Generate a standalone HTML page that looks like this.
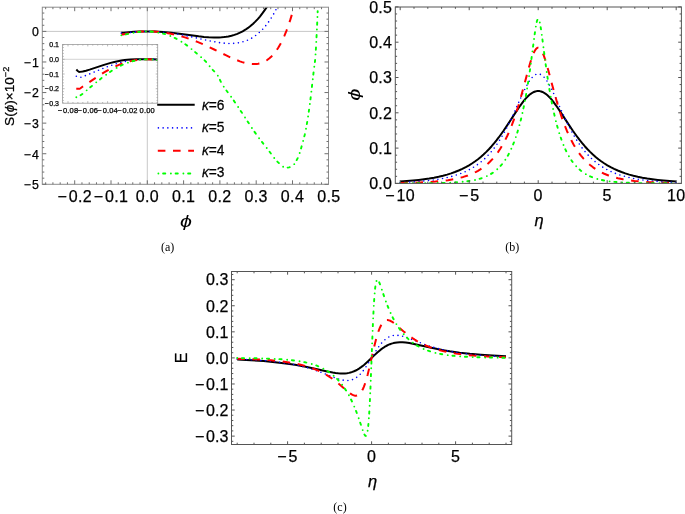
<!DOCTYPE html>
<html><head><meta charset="utf-8"><title>figure</title>
<style>html,body{margin:0;padding:0;background:#fff;}svg{display:block;}</style></head>
<body>
<svg width="685" height="514" viewBox="0 0 685 514">
<style>text{stroke:#000;stroke-width:0.25px;}</style>
<rect width="685" height="514" fill="#fff"/>
<defs><clipPath id="ca"><rect x="42.3" y="7.2" width="286.2" height="177.10000000000002"/></clipPath>
<clipPath id="ci"><rect x="62.6" y="44.4" width="95.1" height="58.800000000000004"/></clipPath>
<clipPath id="cb"><rect x="395.3" y="7.0" width="286.09999999999997" height="176.4"/></clipPath>
<clipPath id="cc"><rect x="231.5" y="271.5" width="280.2" height="173.0"/></clipPath></defs>
<line x1="42.3" y1="31.4" x2="328.5" y2="31.4" stroke="#c8c8c8" stroke-width="1"/>
<line x1="147.3" y1="7.2" x2="147.3" y2="184.3" stroke="#c8c8c8" stroke-width="1"/>
<polyline points="121.31,32.46 122.19,32.68 123.51,32.68 134.08,31.76 139.81,31.46 148.39,31.40 154.95,31.54 162.97,31.99 171.23,32.75 179.49,33.74 198.69,36.34 204.03,36.93 208.65,37.31 213.99,37.54 219.10,37.48 221.53,37.34 223.96,37.11 226.14,36.81 228.33,36.43 231.49,35.72 234.40,34.87 237.32,33.82 239.99,32.67 242.66,31.31 245.34,29.73 248.01,27.92 250.44,26.06 252.87,23.97 255.30,21.65 257.73,19.07 259.92,16.53 262.34,13.44 264.53,10.41 266.72,7.13 268.91,3.59" fill="none" stroke="#000000" stroke-width="2.0" stroke-linejoin="round" stroke-linecap="butt" clip-path="url(#ca)"/>
<polyline points="121.31,33.17 123.07,33.26 134.97,31.95 138.93,31.64 142.89,31.46 147.30,31.40 152.10,31.47 156.54,31.65 161.24,31.98 165.94,32.43 170.64,33.00 175.35,33.70 180.31,34.54 189.71,36.43 210.08,40.95 215.30,41.96 219.74,42.66 224.97,43.25 227.58,43.41 229.93,43.47 232.28,43.44 234.63,43.31 236.72,43.09 238.81,42.78 241.68,42.18 244.55,41.35 247.42,40.27 250.04,39.05 252.65,37.58 255.26,35.85 257.87,33.82 260.22,31.73 262.57,29.36 264.92,26.71 267.27,23.74 269.36,20.82 271.71,17.21 273.80,13.69 275.89,9.86 277.98,5.71" fill="none" stroke="#0000ff" stroke-width="1.6" stroke-linejoin="round" stroke-linecap="round" stroke-dasharray="0 4.73" clip-path="url(#ca)"/>
<polyline points="121.31,34.43 122.63,34.45 131.00,32.86 136.73,32.01 141.57,31.57 146.86,31.40 150.27,31.44 153.45,31.56 156.63,31.77 160.10,32.09 163.28,32.48 166.46,32.95 169.64,33.51 173.12,34.21 178.90,35.61 184.97,37.37 191.05,39.42 197.41,41.87 202.91,44.20 208.69,46.84 214.19,49.48 225.76,55.18 230.96,57.65 235.59,59.67 239.93,61.34 242.24,62.12 244.56,62.79 246.87,63.34 248.90,63.72 250.92,63.97 252.94,64.10 254.97,64.09 256.70,63.95 258.15,63.73 259.60,63.42 261.04,63.02 262.20,62.61 263.65,62.00 264.80,61.43 267.12,60.03 269.43,58.28 271.75,56.14 274.06,53.57 276.37,50.52 278.40,47.44 280.42,43.94 282.45,39.99 284.47,35.55 286.50,30.60 288.23,25.91 290.26,19.89 291.99,14.23" fill="none" stroke="#ff0000" stroke-width="2.0" stroke-linejoin="round" stroke-linecap="butt" stroke-dasharray="7.6 7.6" clip-path="url(#ca)"/>
<polyline points="121.31,35.34 123.51,35.01 130.12,33.45 134.08,32.64 138.05,32.00 141.57,31.63 145.54,31.42 149.37,31.45 152.77,31.74 156.86,32.36 161.97,33.37 165.72,34.25 168.79,35.30 172.20,36.76 176.63,38.89 180.03,40.82 182.42,42.34 185.14,44.19 187.19,45.64 189.23,47.21 200.48,56.59 202.52,58.38 204.23,59.99 205.59,61.38 206.61,62.53 210.70,67.56 212.40,69.55 215.47,72.62 216.49,73.77 217.17,74.65 217.86,75.71 218.88,77.67 221.26,82.64 222.29,84.39 223.65,86.53 226.03,89.97 231.14,96.85 233.19,99.71 237.96,106.80 253.63,130.55 256.70,134.96 259.77,139.12 268.97,150.94 274.08,157.89 275.44,159.58 276.80,161.09 281.23,165.29 282.26,166.15 283.28,166.87 284.30,167.41 285.32,167.71 286.00,167.76 287.37,167.66 289.07,167.36 291.11,166.77 292.14,166.36 292.82,165.87 293.84,164.76 294.86,163.32 296.23,160.99 297.93,157.71 298.61,156.07 299.63,153.11 300.66,149.75 302.70,142.60 303.72,138.82 304.74,134.67 306.11,128.28 307.13,122.42 308.15,115.95 309.86,104.03 310.88,95.89 313.60,72.01 314.97,61.54 315.31,57.88 315.99,47.39 317.01,27.45 317.69,11.16" fill="none" stroke="#00ff00" stroke-width="1.9" stroke-linejoin="round" stroke-linecap="round" stroke-dasharray="0 4.7 2.2 5.6" clip-path="url(#ca)"/>
<rect x="42.3" y="7.2" width="286.2" height="177.10000000000002" fill="none" stroke="#8c8c8c" stroke-width="1.0"/>
<path d="M74.70,184.3v-4M74.70,7.2v4M111.00,184.3v-4M111.00,7.2v4M147.30,184.3v-4M147.30,7.2v4M183.60,184.3v-4M183.60,7.2v4M219.90,184.3v-4M219.90,7.2v4M256.20,184.3v-4M256.20,7.2v4M292.50,184.3v-4M292.50,7.2v4M45.66,184.3v-2M45.66,7.2v2M52.92,184.3v-2M52.92,7.2v2M60.18,184.3v-2M60.18,7.2v2M67.44,184.3v-2M67.44,7.2v2M81.96,184.3v-2M81.96,7.2v2M89.22,184.3v-2M89.22,7.2v2M96.48,184.3v-2M96.48,7.2v2M103.74,184.3v-2M103.74,7.2v2M118.26,184.3v-2M118.26,7.2v2M125.52,184.3v-2M125.52,7.2v2M132.78,184.3v-2M132.78,7.2v2M140.04,184.3v-2M140.04,7.2v2M154.56,184.3v-2M154.56,7.2v2M161.82,184.3v-2M161.82,7.2v2M169.08,184.3v-2M169.08,7.2v2M176.34,184.3v-2M176.34,7.2v2M190.86,184.3v-2M190.86,7.2v2M198.12,184.3v-2M198.12,7.2v2M205.38,184.3v-2M205.38,7.2v2M212.64,184.3v-2M212.64,7.2v2M227.16,184.3v-2M227.16,7.2v2M234.42,184.3v-2M234.42,7.2v2M241.68,184.3v-2M241.68,7.2v2M248.94,184.3v-2M248.94,7.2v2M263.46,184.3v-2M263.46,7.2v2M270.72,184.3v-2M270.72,7.2v2M277.98,184.3v-2M277.98,7.2v2M285.24,184.3v-2M285.24,7.2v2M299.76,184.3v-2M299.76,7.2v2M307.02,184.3v-2M307.02,7.2v2M314.28,184.3v-2M314.28,7.2v2M321.54,184.3v-2M321.54,7.2v2M42.3,184.30h4M328.5,184.30h-4M42.3,153.72h4M328.5,153.72h-4M42.3,123.14h4M328.5,123.14h-4M42.3,92.56h4M328.5,92.56h-4M42.3,61.98h4M328.5,61.98h-4M42.3,31.40h4M328.5,31.40h-4M42.3,178.18h2M328.5,178.18h-2M42.3,172.07h2M328.5,172.07h-2M42.3,165.95h2M328.5,165.95h-2M42.3,159.84h2M328.5,159.84h-2M42.3,147.60h2M328.5,147.60h-2M42.3,141.49h2M328.5,141.49h-2M42.3,135.37h2M328.5,135.37h-2M42.3,129.26h2M328.5,129.26h-2M42.3,117.02h2M328.5,117.02h-2M42.3,110.91h2M328.5,110.91h-2M42.3,104.79h2M328.5,104.79h-2M42.3,98.68h2M328.5,98.68h-2M42.3,86.44h2M328.5,86.44h-2M42.3,80.33h2M328.5,80.33h-2M42.3,74.21h2M328.5,74.21h-2M42.3,68.10h2M328.5,68.10h-2M42.3,55.86h2M328.5,55.86h-2M42.3,49.75h2M328.5,49.75h-2M42.3,43.63h2M328.5,43.63h-2M42.3,37.52h2M328.5,37.52h-2M42.3,25.28h2M328.5,25.28h-2M42.3,19.17h2M328.5,19.17h-2M42.3,13.05h2M328.5,13.05h-2" stroke="#707070" stroke-width="1.0" fill="none"/>
<text transform="translate(74.70,201.90) scale(1.0,1)" font-family="'Liberation Sans', Arial, Helvetica, sans-serif" font-size="16" text-anchor="middle" style="" fill="#000" letter-spacing="0.35">−<tspan dx="1.60">0.2</tspan></text>
<text transform="translate(111.00,201.90) scale(1.0,1)" font-family="'Liberation Sans', Arial, Helvetica, sans-serif" font-size="16" text-anchor="middle" style="" fill="#000" letter-spacing="0.35">−<tspan dx="1.60">0.1</tspan></text>
<text transform="translate(147.30,201.90) scale(1.0,1)" font-family="'Liberation Sans', Arial, Helvetica, sans-serif" font-size="16" text-anchor="middle" style="" fill="#000" letter-spacing="0.35">0.0</text>
<text transform="translate(183.60,201.90) scale(1.0,1)" font-family="'Liberation Sans', Arial, Helvetica, sans-serif" font-size="16" text-anchor="middle" style="" fill="#000" letter-spacing="0.35">0.1</text>
<text transform="translate(219.90,201.90) scale(1.0,1)" font-family="'Liberation Sans', Arial, Helvetica, sans-serif" font-size="16" text-anchor="middle" style="" fill="#000" letter-spacing="0.35">0.2</text>
<text transform="translate(256.20,201.90) scale(1.0,1)" font-family="'Liberation Sans', Arial, Helvetica, sans-serif" font-size="16" text-anchor="middle" style="" fill="#000" letter-spacing="0.35">0.3</text>
<text transform="translate(292.50,201.90) scale(1.0,1)" font-family="'Liberation Sans', Arial, Helvetica, sans-serif" font-size="16" text-anchor="middle" style="" fill="#000" letter-spacing="0.35">0.4</text>
<text transform="translate(328.80,201.90) scale(1.0,1)" font-family="'Liberation Sans', Arial, Helvetica, sans-serif" font-size="16" text-anchor="middle" style="" fill="#000" letter-spacing="0.35">0.5</text>
<text transform="translate(38.90,36.20) scale(1.0,1)" font-family="'Liberation Sans', Arial, Helvetica, sans-serif" font-size="12.3" text-anchor="end" style="" fill="#000" >0</text>
<text transform="translate(38.90,66.78) scale(1.0,1)" font-family="'Liberation Sans', Arial, Helvetica, sans-serif" font-size="12.3" text-anchor="end" style="" fill="#000" >−<tspan dx="1.23">1</tspan></text>
<text transform="translate(38.90,97.36) scale(1.0,1)" font-family="'Liberation Sans', Arial, Helvetica, sans-serif" font-size="12.3" text-anchor="end" style="" fill="#000" >−<tspan dx="1.23">2</tspan></text>
<text transform="translate(38.90,127.94) scale(1.0,1)" font-family="'Liberation Sans', Arial, Helvetica, sans-serif" font-size="12.3" text-anchor="end" style="" fill="#000" >−<tspan dx="1.23">3</tspan></text>
<text transform="translate(38.90,158.52) scale(1.0,1)" font-family="'Liberation Sans', Arial, Helvetica, sans-serif" font-size="12.3" text-anchor="end" style="" fill="#000" >−<tspan dx="1.23">4</tspan></text>
<text transform="translate(38.90,189.10) scale(1.0,1)" font-family="'Liberation Sans', Arial, Helvetica, sans-serif" font-size="12.3" text-anchor="end" style="" fill="#000" >−<tspan dx="1.23">5</tspan></text>
<text transform="translate(186.0,227.3) scale(1.26,1)" font-family="'Liberation Sans', Arial, Helvetica, sans-serif" font-size="17" text-anchor="middle" font-style="italic" fill="#000" style="stroke:none">ϕ</text>
<text transform="translate(13.9,96.3) scale(1.0,1) rotate(-90)" font-family="'Liberation Sans', Arial, Helvetica, sans-serif" font-size="13.6" text-anchor="middle" fill="#000">S(<tspan font-style="italic">ϕ</tspan>)×10<tspan font-size="9.2" dy="-5.2">−2</tspan></text>
<rect x="62.6" y="44.4" width="95.1" height="58.800000000000004" fill="#fff"/>
<line x1="62.6" y1="59.3" x2="157.7" y2="59.3" stroke="#c8c8c8" stroke-width="0.8"/>
<line x1="147.2" y1="44.4" x2="147.2" y2="103.2" stroke="#c8c8c8" stroke-width="0.8"/>
<polyline points="76.32,69.50 77.42,70.68 78.53,71.51 79.08,71.82 79.36,71.89 80.19,71.87 82.68,71.52 86.00,70.70 89.60,69.66 104.00,64.86 110.64,62.87 114.24,61.95 117.84,61.16 121.43,60.52 124.76,60.05 127.52,59.76 130.57,59.52 136.66,59.30 150.50,59.32 159.08,59.52" fill="none" stroke="#000000" stroke-width="2.0" stroke-linejoin="round" stroke-linecap="butt" clip-path="url(#ci)"/>
<polyline points="76.32,76.29 77.42,76.77 78.81,77.09 80.74,77.20 81.58,77.08 82.68,76.71 87.66,74.76 102.89,68.46 109.53,65.93 113.68,64.52 117.84,63.26 121.99,62.16 125.86,61.30 129.46,60.65 133.06,60.13 136.66,59.74 140.53,59.47 144.41,59.33 148.56,59.30 153.82,59.38 159.08,59.57" fill="none" stroke="#0000ff" stroke-width="1.6" stroke-linejoin="round" stroke-linecap="round" stroke-dasharray="0 4.73" clip-path="url(#ci)"/>
<polyline points="76.32,88.41 77.15,88.70 78.25,88.84 79.08,88.84 79.36,88.80 79.91,88.59 80.47,88.24 82.13,86.96 95.69,77.81 100.67,74.58 105.38,71.71 110.09,69.08 114.51,66.84 118.94,64.88 123.10,63.31 127.25,61.99 131.12,61.01 135.27,60.22 139.43,59.68 143.30,59.39 147.18,59.30 152.99,59.39 159.08,59.68" fill="none" stroke="#ff0000" stroke-width="2.0" stroke-linejoin="round" stroke-linecap="butt" stroke-dasharray="7.6 7.6" clip-path="url(#ci)"/>
<polyline points="76.32,97.23 77.70,96.72 79.08,96.05 80.47,95.23 82.41,93.95 93.20,84.86 98.18,80.76 103.44,76.65 108.15,73.23 112.02,70.64 115.90,68.28 119.50,66.32 123.10,64.59 125.31,63.64 127.52,62.79 131.68,61.45 133.89,60.86 136.11,60.38 138.32,59.98 140.53,59.68 142.75,59.47 144.96,59.34 147.18,59.30 149.39,59.34 151.61,59.46 154.10,59.68 156.59,59.98 159.08,60.37" fill="none" stroke="#00ff00" stroke-width="1.9" stroke-linejoin="round" stroke-linecap="round" stroke-dasharray="0 4.7 2.2 5.6" clip-path="url(#ci)"/>
<rect x="62.6" y="44.4" width="95.1" height="58.800000000000004" fill="none" stroke="#9a9a9a" stroke-width="0.8"/>
<path d="M68.00,103.2v-2M68.00,44.4v2M87.80,103.2v-2M87.80,44.4v2M107.60,103.2v-2M107.60,44.4v2M127.40,103.2v-2M127.40,44.4v2M147.20,103.2v-2M147.20,44.4v2M63.05,103.2v-1.2M63.05,44.4v1.2M72.95,103.2v-1.2M72.95,44.4v1.2M77.90,103.2v-1.2M77.90,44.4v1.2M82.85,103.2v-1.2M82.85,44.4v1.2M92.75,103.2v-1.2M92.75,44.4v1.2M97.70,103.2v-1.2M97.70,44.4v1.2M102.65,103.2v-1.2M102.65,44.4v1.2M112.55,103.2v-1.2M112.55,44.4v1.2M117.50,103.2v-1.2M117.50,44.4v1.2M122.45,103.2v-1.2M122.45,44.4v1.2M132.35,103.2v-1.2M132.35,44.4v1.2M137.30,103.2v-1.2M137.30,44.4v1.2M142.25,103.2v-1.2M142.25,44.4v1.2M152.15,103.2v-1.2M152.15,44.4v1.2M157.10,103.2v-1.2M157.10,44.4v1.2M62.6,88.70h2M157.7,88.70h-2M62.6,74.00h2M157.7,74.00h-2M62.6,59.30h2M157.7,59.30h-2M62.6,44.60h2M157.7,44.60h-2M62.6,100.46h1.2M157.7,100.46h-1.2M62.6,97.52h1.2M157.7,97.52h-1.2M62.6,94.58h1.2M157.7,94.58h-1.2M62.6,91.64h1.2M157.7,91.64h-1.2M62.6,85.76h1.2M157.7,85.76h-1.2M62.6,82.82h1.2M157.7,82.82h-1.2M62.6,79.88h1.2M157.7,79.88h-1.2M62.6,76.94h1.2M157.7,76.94h-1.2M62.6,71.06h1.2M157.7,71.06h-1.2M62.6,68.12h1.2M157.7,68.12h-1.2M62.6,65.18h1.2M157.7,65.18h-1.2M62.6,62.24h1.2M157.7,62.24h-1.2M62.6,56.36h1.2M157.7,56.36h-1.2M62.6,53.42h1.2M157.7,53.42h-1.2M62.6,50.48h1.2M157.7,50.48h-1.2M62.6,47.54h1.2M157.7,47.54h-1.2" stroke="#9a9a9a" stroke-width="0.7" fill="none"/>
<text transform="translate(68.00,112.90) scale(1.0,1)" font-family="'Liberation Sans', Arial, Helvetica, sans-serif" font-size="7.5" text-anchor="middle" style="" fill="#000" letter-spacing="0.15">−<tspan dx="0.75">0.08</tspan></text>
<text transform="translate(87.80,112.90) scale(1.0,1)" font-family="'Liberation Sans', Arial, Helvetica, sans-serif" font-size="7.5" text-anchor="middle" style="" fill="#000" letter-spacing="0.15">−<tspan dx="0.75">0.06</tspan></text>
<text transform="translate(107.60,112.90) scale(1.0,1)" font-family="'Liberation Sans', Arial, Helvetica, sans-serif" font-size="7.5" text-anchor="middle" style="" fill="#000" letter-spacing="0.15">−<tspan dx="0.75">0.04</tspan></text>
<text transform="translate(127.40,112.90) scale(1.0,1)" font-family="'Liberation Sans', Arial, Helvetica, sans-serif" font-size="7.5" text-anchor="middle" style="" fill="#000" letter-spacing="0.15">−<tspan dx="0.75">0.02</tspan></text>
<text transform="translate(147.20,112.90) scale(1.0,1)" font-family="'Liberation Sans', Arial, Helvetica, sans-serif" font-size="7.5" text-anchor="middle" style="" fill="#000" letter-spacing="0.15">0.00</text>
<text transform="translate(59.00,106.00) scale(1.0,1)" font-family="'Liberation Sans', Arial, Helvetica, sans-serif" font-size="7.0" text-anchor="end" style="" fill="#000" >−<tspan dx="0.70">0.3</tspan></text>
<text transform="translate(59.00,91.30) scale(1.0,1)" font-family="'Liberation Sans', Arial, Helvetica, sans-serif" font-size="7.0" text-anchor="end" style="" fill="#000" >−<tspan dx="0.70">0.2</tspan></text>
<text transform="translate(59.00,76.60) scale(1.0,1)" font-family="'Liberation Sans', Arial, Helvetica, sans-serif" font-size="7.0" text-anchor="end" style="" fill="#000" >−<tspan dx="0.70">0.1</tspan></text>
<text transform="translate(59.00,61.90) scale(1.0,1)" font-family="'Liberation Sans', Arial, Helvetica, sans-serif" font-size="7.0" text-anchor="end" style="" fill="#000" >0.0</text>
<text transform="translate(59.00,47.20) scale(1.0,1)" font-family="'Liberation Sans', Arial, Helvetica, sans-serif" font-size="7.0" text-anchor="end" style="" fill="#000" >0.1</text>
<polyline points="157.20,104.85 194.70,104.85" fill="none" stroke="#000000" stroke-width="2.0" stroke-linejoin="round" stroke-linecap="butt"/>
<text transform="translate(201.9,109.55) scale(0.95,1)" font-family="'Liberation Sans', Arial, Helvetica, sans-serif" font-size="14.5" fill="#000"><tspan font-style="italic">κ</tspan>=6</text>
<polyline points="158.40,127.90 191.60,127.90" fill="none" stroke="#0000ff" stroke-width="1.6" stroke-linejoin="round" stroke-linecap="round" stroke-dasharray="0 4.73"/>
<text transform="translate(201.9,132.05) scale(0.95,1)" font-family="'Liberation Sans', Arial, Helvetica, sans-serif" font-size="14.5" fill="#000"><tspan font-style="italic">κ</tspan>=5</text>
<polyline points="157.80,150.70 194.00,150.70" fill="none" stroke="#ff0000" stroke-width="2.0" stroke-linejoin="round" stroke-linecap="butt" stroke-dasharray="7.6 7.6"/>
<text transform="translate(201.9,155.05) scale(0.95,1)" font-family="'Liberation Sans', Arial, Helvetica, sans-serif" font-size="14.5" fill="#000"><tspan font-style="italic">κ</tspan>=4</text>
<polyline points="158.40,173.50 191.00,173.50" fill="none" stroke="#00ff00" stroke-width="1.9" stroke-linejoin="round" stroke-linecap="round" stroke-dasharray="0 4.7 2.2 5.6"/>
<text transform="translate(201.9,177.05) scale(0.95,1)" font-family="'Liberation Sans', Arial, Helvetica, sans-serif" font-size="14.5" fill="#000"><tspan font-style="italic">κ</tspan>=3</text>
<polyline points="400.20,181.55 406.75,181.10 412.97,180.58 418.66,179.99 424.01,179.32 429.18,178.56 434.01,177.72 438.67,176.76 442.98,175.74 447.12,174.61 451.09,173.38 454.88,172.04 458.68,170.52 462.30,168.89 465.75,167.14 469.03,165.30 472.31,163.26 475.24,161.25 478.00,159.18 480.76,156.94 483.52,154.51 486.28,151.89 488.87,149.24 491.63,146.21 494.21,143.17 496.46,140.39 498.70,137.47 503.36,130.99 507.67,124.60 516.47,111.09 520.09,105.78 523.19,101.60 524.75,99.68 526.12,98.11 527.68,96.48 529.23,95.04 530.78,93.80 532.34,92.77 533.89,91.97 535.27,91.45 536.82,91.11 538.20,91.01 539.58,91.11 541.13,91.45 542.51,91.97 544.07,92.77 545.62,93.80 547.17,95.04 548.72,96.48 550.28,98.11 551.66,99.68 553.21,101.60 556.31,105.78 559.94,111.09 568.73,124.60 573.05,130.99 577.70,137.47 579.95,140.39 582.19,143.17 584.78,146.21 587.54,149.24 590.12,151.89 592.88,154.51 595.64,156.94 598.40,159.18 601.16,161.25 604.10,163.26 607.37,165.30 610.65,167.14 614.10,168.89 617.72,170.52 621.52,172.04 625.31,173.38 629.28,174.61 633.42,175.74 637.73,176.76 642.39,177.72 647.22,178.56 652.40,179.32 657.74,179.99 663.44,180.58 669.65,181.10 676.20,181.55" fill="none" stroke="#000000" stroke-width="2.0" stroke-linejoin="round" stroke-linecap="butt" clip-path="url(#cb)"/>
<polyline points="400.20,182.44 408.31,182.08 415.55,181.66 422.28,181.15 428.49,180.54 434.36,179.82 439.70,179.00 444.71,178.07 449.36,177.02 453.85,175.82 458.16,174.45 462.30,172.91 466.10,171.27 469.72,169.46 473.34,167.38 476.62,165.25 479.90,162.83 482.48,160.70 484.90,158.52 487.31,156.14 489.73,153.54 491.97,150.91 494.21,148.08 496.46,145.02 498.70,141.73 501.11,137.91 503.53,133.80 505.94,129.40 508.53,124.39 510.77,119.80 513.19,114.65 520.61,98.16 523.02,92.93 525.61,87.67 527.85,83.57 529.23,81.31 530.61,79.31 531.99,77.58 533.20,76.33 534.58,75.20 535.79,74.50 536.99,74.07 538.20,73.93 539.41,74.07 540.62,74.50 541.82,75.20 543.20,76.33 544.41,77.58 545.79,79.31 547.17,81.31 548.55,83.57 550.79,87.67 553.38,92.93 555.80,98.16 563.21,114.65 565.63,119.80 567.87,124.39 570.46,129.40 572.87,133.80 575.29,137.91 577.70,141.73 579.95,145.02 582.19,148.08 584.43,150.91 586.67,153.54 589.09,156.14 591.50,158.52 593.92,160.70 596.51,162.83 599.78,165.25 603.06,167.38 606.68,169.46 610.31,171.27 614.10,172.91 618.24,174.45 622.55,175.82 627.04,177.02 631.70,178.07 636.70,179.00 642.05,179.82 647.91,180.54 654.12,181.15 660.85,181.66 668.09,182.08 676.20,182.44" fill="none" stroke="#0000ff" stroke-width="1.6" stroke-linejoin="round" stroke-linecap="round" stroke-dasharray="0 4.73" clip-path="url(#cb)"/>
<polyline points="400.20,183.03 410.90,182.80 420.04,182.49 428.15,182.09 435.39,181.57 441.95,180.94 447.98,180.17 453.50,179.25 458.51,178.19 463.34,176.91 467.82,175.45 472.13,173.73 476.10,171.82 478.00,170.78 479.90,169.65 483.35,167.32 486.62,164.74 488.35,163.22 489.90,161.75 492.66,158.86 495.42,155.59 498.01,152.13 500.42,148.51 502.84,144.49 505.08,140.34 507.32,135.76 509.57,130.72 511.81,125.17 513.88,119.57 515.95,113.49 518.02,106.94 519.92,100.54 521.81,93.78 528.89,67.43 530.44,62.11 531.82,57.84 532.68,55.45 533.54,53.32 534.41,51.50 535.10,50.27 535.96,49.06 536.65,48.36 537.17,48.00 537.51,47.84 538.20,47.71 538.89,47.84 539.24,48.00 539.75,48.36 540.44,49.06 541.31,50.27 542.00,51.50 542.86,53.32 543.72,55.45 544.58,57.84 545.96,62.11 547.52,67.43 554.59,93.78 556.49,100.54 558.38,106.94 560.45,113.49 562.52,119.57 564.59,125.17 566.84,130.72 569.08,135.76 571.32,140.34 573.56,144.49 575.98,148.51 578.39,152.13 580.98,155.59 583.74,158.86 586.50,161.75 588.05,163.22 589.78,164.74 593.06,167.32 596.51,169.65 598.40,170.78 600.30,171.82 604.27,173.73 608.58,175.45 613.07,176.91 617.90,178.19 622.90,179.25 628.42,180.17 634.46,180.94 641.01,181.57 648.26,182.09 656.36,182.49 665.51,182.80 676.20,183.03" fill="none" stroke="#ff0000" stroke-width="2.0" stroke-linejoin="round" stroke-linecap="butt" stroke-dasharray="7.6 7.6" clip-path="url(#cb)"/>
<polyline points="400.20,183.37 429.87,183.21 439.88,183.03 448.16,182.78 455.40,182.42 461.78,181.92 467.30,181.30 472.31,180.51 477.14,179.47 479.38,178.87 481.45,178.23 483.52,177.50 485.42,176.74 487.31,175.89 489.21,174.92 490.94,173.94 492.66,172.84 494.21,171.74 495.77,170.53 497.32,169.19 498.87,167.71 500.25,166.27 501.63,164.70 503.01,162.98 504.39,161.11 505.77,159.06 507.15,156.82 508.36,154.70 509.57,152.41 510.77,149.93 511.98,147.25 514.22,141.71 516.47,135.31 518.54,128.53 520.61,120.80 522.50,112.76 524.23,104.56 525.95,95.42 527.68,85.23 528.89,77.44 530.27,67.86 534.58,34.91 535.27,30.03 535.96,25.73 536.65,22.25 537.17,20.36 537.68,19.18 538.03,18.82 538.20,18.78 538.37,18.82 538.72,19.18 539.24,20.36 539.75,22.25 540.44,25.73 541.13,30.03 541.82,34.91 546.14,67.86 547.52,77.44 548.72,85.23 550.45,95.42 552.17,104.56 553.90,112.76 555.80,120.80 557.87,128.53 559.94,135.31 562.18,141.71 564.42,147.25 565.63,149.93 566.84,152.41 568.04,154.70 569.25,156.82 570.63,159.06 572.01,161.11 573.39,162.98 574.77,164.70 576.15,166.27 577.53,167.71 579.08,169.19 580.64,170.53 582.19,171.74 583.74,172.84 585.47,173.94 587.19,174.92 589.09,175.89 590.99,176.74 592.88,177.50 594.95,178.23 597.02,178.87 599.27,179.47 604.10,180.51 609.10,181.30 614.62,181.92 621.00,182.42 628.25,182.78 636.53,183.03 646.53,183.21 676.20,183.37" fill="none" stroke="#00ff00" stroke-width="1.9" stroke-linejoin="round" stroke-linecap="round" stroke-dasharray="0 4.7 2.2 5.6" clip-path="url(#cb)"/>
<rect x="395.3" y="7.0" width="286.09999999999997" height="176.4" fill="none" stroke="#555" stroke-width="1.0"/>
<path d="M400.20,183.4v-3.2M400.20,7.0v3.2M469.20,183.4v-3.2M469.20,7.0v3.2M538.20,183.4v-3.2M538.20,7.0v3.2M607.20,183.4v-3.2M607.20,7.0v3.2M676.20,183.4v-3.2M676.20,7.0v3.2M414.00,183.4v-1.8M414.00,7.0v1.8M427.80,183.4v-1.8M427.80,7.0v1.8M441.60,183.4v-1.8M441.60,7.0v1.8M455.40,183.4v-1.8M455.40,7.0v1.8M483.00,183.4v-1.8M483.00,7.0v1.8M496.80,183.4v-1.8M496.80,7.0v1.8M510.60,183.4v-1.8M510.60,7.0v1.8M524.40,183.4v-1.8M524.40,7.0v1.8M552.00,183.4v-1.8M552.00,7.0v1.8M565.80,183.4v-1.8M565.80,7.0v1.8M579.60,183.4v-1.8M579.60,7.0v1.8M593.40,183.4v-1.8M593.40,7.0v1.8M621.00,183.4v-1.8M621.00,7.0v1.8M634.80,183.4v-1.8M634.80,7.0v1.8M648.60,183.4v-1.8M648.60,7.0v1.8M662.40,183.4v-1.8M662.40,7.0v1.8M395.3,183.40h3.2M681.4,183.40h-3.2M395.3,148.10h3.2M681.4,148.10h-3.2M395.3,112.80h3.2M681.4,112.80h-3.2M395.3,77.50h3.2M681.4,77.50h-3.2M395.3,42.20h3.2M681.4,42.20h-3.2M395.3,6.90h3.2M681.4,6.90h-3.2M395.3,176.34h1.8M681.4,176.34h-1.8M395.3,169.28h1.8M681.4,169.28h-1.8M395.3,162.22h1.8M681.4,162.22h-1.8M395.3,155.16h1.8M681.4,155.16h-1.8M395.3,141.04h1.8M681.4,141.04h-1.8M395.3,133.98h1.8M681.4,133.98h-1.8M395.3,126.92h1.8M681.4,126.92h-1.8M395.3,119.86h1.8M681.4,119.86h-1.8M395.3,105.74h1.8M681.4,105.74h-1.8M395.3,98.68h1.8M681.4,98.68h-1.8M395.3,91.62h1.8M681.4,91.62h-1.8M395.3,84.56h1.8M681.4,84.56h-1.8M395.3,70.44h1.8M681.4,70.44h-1.8M395.3,63.38h1.8M681.4,63.38h-1.8M395.3,56.32h1.8M681.4,56.32h-1.8M395.3,49.26h1.8M681.4,49.26h-1.8M395.3,35.14h1.8M681.4,35.14h-1.8M395.3,28.08h1.8M681.4,28.08h-1.8M395.3,21.02h1.8M681.4,21.02h-1.8M395.3,13.96h1.8M681.4,13.96h-1.8" stroke="#555" stroke-width="1.0" fill="none"/>
<text transform="translate(400.20,201.20) scale(1.0,1)" font-family="'Liberation Sans', Arial, Helvetica, sans-serif" font-size="16" text-anchor="middle" style="" fill="#000" letter-spacing="0.35">−<tspan dx="1.60">10</tspan></text>
<text transform="translate(469.20,201.20) scale(1.0,1)" font-family="'Liberation Sans', Arial, Helvetica, sans-serif" font-size="16" text-anchor="middle" style="" fill="#000" letter-spacing="0.35">−<tspan dx="1.60">5</tspan></text>
<text transform="translate(538.20,201.20) scale(1.0,1)" font-family="'Liberation Sans', Arial, Helvetica, sans-serif" font-size="16" text-anchor="middle" style="" fill="#000" letter-spacing="0.35">0</text>
<text transform="translate(607.20,201.20) scale(1.0,1)" font-family="'Liberation Sans', Arial, Helvetica, sans-serif" font-size="16" text-anchor="middle" style="" fill="#000" letter-spacing="0.35">5</text>
<text transform="translate(676.20,201.20) scale(1.0,1)" font-family="'Liberation Sans', Arial, Helvetica, sans-serif" font-size="16" text-anchor="middle" style="" fill="#000" letter-spacing="0.35">10</text>
<text transform="translate(391.90,189.10) scale(1.0,1)" font-family="'Liberation Sans', Arial, Helvetica, sans-serif" font-size="16" text-anchor="end" style="" fill="#000" letter-spacing="0.1">0.0</text>
<text transform="translate(391.90,153.80) scale(1.0,1)" font-family="'Liberation Sans', Arial, Helvetica, sans-serif" font-size="16" text-anchor="end" style="" fill="#000" letter-spacing="0.1">0.1</text>
<text transform="translate(391.90,118.50) scale(1.0,1)" font-family="'Liberation Sans', Arial, Helvetica, sans-serif" font-size="16" text-anchor="end" style="" fill="#000" letter-spacing="0.1">0.2</text>
<text transform="translate(391.90,83.20) scale(1.0,1)" font-family="'Liberation Sans', Arial, Helvetica, sans-serif" font-size="16" text-anchor="end" style="" fill="#000" letter-spacing="0.1">0.3</text>
<text transform="translate(391.90,47.90) scale(1.0,1)" font-family="'Liberation Sans', Arial, Helvetica, sans-serif" font-size="16" text-anchor="end" style="" fill="#000" letter-spacing="0.1">0.4</text>
<text transform="translate(391.90,12.60) scale(1.0,1)" font-family="'Liberation Sans', Arial, Helvetica, sans-serif" font-size="16" text-anchor="end" style="" fill="#000" letter-spacing="0.1">0.5</text>
<text transform="translate(539.00,226.00) scale(1.0,1)" font-family="'Liberation Sans', Arial, Helvetica, sans-serif" font-size="16.5" text-anchor="middle" style="font-style:italic;" fill="#000" >η</text>
<text transform="translate(360.0,94.6) scale(1.0,1.3) rotate(-90)" font-family="'Liberation Sans', Arial, Helvetica, sans-serif" font-size="17" text-anchor="middle" font-style="italic" fill="#000" style="stroke:none">ϕ</text>
<polyline points="237.20,359.59 250.97,360.27 263.55,361.12 274.96,362.15 285.58,363.40 295.02,364.78 304.46,366.46 312.72,368.17 327.27,371.45 332.77,372.54 335.53,372.97 338.28,373.30 340.64,373.47 343.00,373.51 344.97,373.43 346.93,373.22 348.90,372.88 350.47,372.51 352.44,371.89 354.01,371.28 355.72,370.50 357.40,369.60 359.04,368.60 360.72,367.45 362.44,366.16 364.25,364.69 367.78,361.55 374.50,355.12 377.35,352.49 380.42,349.90 383.23,347.82 384.91,346.73 386.59,345.76 388.27,344.92 389.97,344.20 391.55,343.64 393.51,343.09 395.09,342.76 397.05,342.48 399.81,342.30 402.56,342.33 405.71,342.58 409.25,343.06 415.15,344.18 431.27,347.80 439.92,349.57 444.64,350.43 449.76,351.27 459.59,352.66 469.82,353.81 480.83,354.77 492.63,355.55 506.00,356.21" fill="none" stroke="#000000" stroke-width="2.0" stroke-linejoin="round" stroke-linecap="butt" clip-path="url(#cc)"/>
<polyline points="237.20,359.15 246.25,359.53 254.51,359.99 261.98,360.51 269.06,361.12 275.74,361.82 282.04,362.62 287.94,363.52 293.44,364.51 298.56,365.57 303.28,366.70 308.00,367.97 312.72,369.40 316.26,370.58 319.80,371.85 324.12,373.49 333.95,377.37 336.71,378.37 339.07,379.14 341.43,379.78 343.39,380.18 345.36,380.44 347.33,380.52 348.90,380.43 350.47,380.18 352.05,379.76 353.62,379.14 355.14,378.36 356.61,377.41 358.08,376.27 359.50,374.97 360.89,373.53 362.32,371.87 363.79,369.99 365.30,367.88 368.32,363.27 374.12,353.75 376.56,349.91 379.16,346.15 381.60,343.08 383.07,341.47 384.54,340.05 385.96,338.86 387.43,337.82 388.79,337.04 390.37,336.33 391.94,335.81 393.51,335.48 394.69,335.34 395.87,335.28 398.23,335.40 400.59,335.76 403.35,336.43 405.71,337.16 408.07,337.99 422.62,343.66 426.94,345.22 430.88,346.52 435.60,347.94 440.71,349.30 445.82,350.49 450.94,351.52 456.44,352.47 462.34,353.34 468.64,354.12 474.93,354.76 482.01,355.35 489.48,355.86 497.35,356.29 506.00,356.65" fill="none" stroke="#0000ff" stroke-width="1.6" stroke-linejoin="round" stroke-linecap="round" stroke-dasharray="0 4.73" clip-path="url(#cc)"/>
<polyline points="237.20,358.64 250.18,359.06 261.19,359.61 271.02,360.32 279.68,361.19 287.54,362.24 291.48,362.88 295.02,363.54 298.56,364.29 301.70,365.04 304.85,365.87 308.00,366.81 313.11,368.56 315.86,369.65 318.22,370.66 320.58,371.76 322.94,372.95 327.27,375.40 331.59,378.22 335.92,381.42 339.85,384.65 347.33,391.15 350.08,393.30 351.65,394.33 353.23,395.13 354.41,395.53 355.14,395.67 355.85,395.71 356.98,395.57 358.03,395.18 359.04,394.52 360.05,393.57 361.02,392.34 361.98,390.79 362.91,388.98 363.83,386.85 364.75,384.39 365.68,381.60 366.60,378.50 367.57,374.96 369.50,367.11 373.20,350.86 374.79,344.15 376.47,337.75 378.07,332.52 379.03,329.81 380.00,327.46 380.97,325.47 381.97,323.76 382.98,322.42 383.99,321.41 385.04,320.69 386.17,320.24 386.89,320.11 387.60,320.09 388.36,320.18 389.19,320.38 390.76,321.04 392.73,322.22 394.30,323.38 395.87,324.65 403.35,331.15 407.67,334.69 410.03,336.46 412.39,338.12 414.75,339.67 417.11,341.10 421.44,343.45 425.76,345.49 430.48,347.38 435.60,349.11 438.74,350.04 441.89,350.86 445.04,351.60 448.58,352.34 452.12,352.99 456.05,353.62 463.92,354.66 472.57,355.51 482.40,356.21 493.41,356.75 506.00,357.16" fill="none" stroke="#ff0000" stroke-width="2.0" stroke-linejoin="round" stroke-linecap="butt" stroke-dasharray="7.6 7.6" clip-path="url(#cc)"/>
<polyline points="237.20,358.06 257.65,358.33 265.91,358.55 272.99,358.81 279.68,359.17 285.58,359.59 291.08,360.11 295.80,360.69 300.52,361.41 304.85,362.24 308.78,363.16 312.72,364.28 316.26,365.48 319.80,366.92 322.94,368.42 326.09,370.17 329.23,372.21 331.99,374.27 334.74,376.63 337.10,378.92 339.46,381.49 341.82,384.38 344.18,387.62 346.54,391.25 348.51,394.62 350.08,397.56 352.05,401.56 353.62,405.05 355.60,409.83 357.57,415.05 359.38,420.22 362.49,429.56 363.66,432.78 364.38,434.39 364.96,435.37 365.26,435.70 365.51,435.87 365.76,435.93 366.01,435.85 366.27,435.62 366.48,435.30 366.94,434.11 367.36,432.33 367.78,429.75 368.16,426.66 368.53,422.72 369.29,412.03 369.88,400.99 370.47,387.71 372.36,337.59 373.03,321.19 373.70,307.44 374.37,296.78 375.04,289.14 375.38,286.35 375.76,283.92 376.14,282.15 376.56,280.85 376.98,280.13 377.19,279.95 377.44,279.87 377.65,279.91 377.90,280.07 378.40,280.67 378.99,281.76 379.66,283.34 380.76,286.36 383.74,295.33 385.46,300.28 387.31,305.23 389.19,309.84 390.76,313.39 392.73,317.47 394.30,320.47 396.27,323.90 398.63,327.61 400.99,330.91 403.35,333.85 405.71,336.47 408.46,339.17 411.21,341.53 413.97,343.59 417.11,345.63 420.26,347.38 423.40,348.88 426.94,350.32 430.48,351.52 434.42,352.64 438.35,353.56 442.68,354.39 447.40,355.11 452.12,355.69 457.62,356.21 463.52,356.63 470.21,356.99 477.29,357.25 485.55,357.47 506.00,357.74" fill="none" stroke="#00ff00" stroke-width="1.9" stroke-linejoin="round" stroke-linecap="round" stroke-dasharray="0 4.7 2.2 5.6" clip-path="url(#cc)"/>
<rect x="231.5" y="271.5" width="280.2" height="173.0" fill="none" stroke="#555" stroke-width="1.0"/>
<path d="M287.60,444.5v-3.2M287.60,271.5v3.2M371.60,444.5v-3.2M371.60,271.5v3.2M455.60,444.5v-3.2M455.60,271.5v3.2M237.20,444.5v-1.8M237.20,271.5v1.8M254.00,444.5v-1.8M254.00,271.5v1.8M270.80,444.5v-1.8M270.80,271.5v1.8M304.40,444.5v-1.8M304.40,271.5v1.8M321.20,444.5v-1.8M321.20,271.5v1.8M338.00,444.5v-1.8M338.00,271.5v1.8M354.80,444.5v-1.8M354.80,271.5v1.8M388.40,444.5v-1.8M388.40,271.5v1.8M405.20,444.5v-1.8M405.20,271.5v1.8M422.00,444.5v-1.8M422.00,271.5v1.8M438.80,444.5v-1.8M438.80,271.5v1.8M472.40,444.5v-1.8M472.40,271.5v1.8M489.20,444.5v-1.8M489.20,271.5v1.8M506.00,444.5v-1.8M506.00,271.5v1.8M231.5,436.11h3.2M511.7,436.11h-3.2M231.5,410.04h3.2M511.7,410.04h-3.2M231.5,383.97h3.2M511.7,383.97h-3.2M231.5,357.90h3.2M511.7,357.90h-3.2M231.5,331.83h3.2M511.7,331.83h-3.2M231.5,305.76h3.2M511.7,305.76h-3.2M231.5,279.69h3.2M511.7,279.69h-3.2M231.5,441.32h1.8M511.7,441.32h-1.8M231.5,430.90h1.8M511.7,430.90h-1.8M231.5,425.68h1.8M511.7,425.68h-1.8M231.5,420.47h1.8M511.7,420.47h-1.8M231.5,415.25h1.8M511.7,415.25h-1.8M231.5,404.83h1.8M511.7,404.83h-1.8M231.5,399.61h1.8M511.7,399.61h-1.8M231.5,394.40h1.8M511.7,394.40h-1.8M231.5,389.18h1.8M511.7,389.18h-1.8M231.5,378.76h1.8M511.7,378.76h-1.8M231.5,373.54h1.8M511.7,373.54h-1.8M231.5,368.33h1.8M511.7,368.33h-1.8M231.5,363.11h1.8M511.7,363.11h-1.8M231.5,352.69h1.8M511.7,352.69h-1.8M231.5,347.47h1.8M511.7,347.47h-1.8M231.5,342.26h1.8M511.7,342.26h-1.8M231.5,337.04h1.8M511.7,337.04h-1.8M231.5,326.62h1.8M511.7,326.62h-1.8M231.5,321.40h1.8M511.7,321.40h-1.8M231.5,316.19h1.8M511.7,316.19h-1.8M231.5,310.97h1.8M511.7,310.97h-1.8M231.5,300.55h1.8M511.7,300.55h-1.8M231.5,295.33h1.8M511.7,295.33h-1.8M231.5,290.12h1.8M511.7,290.12h-1.8M231.5,284.90h1.8M511.7,284.90h-1.8M231.5,274.48h1.8M511.7,274.48h-1.8" stroke="#555" stroke-width="1.0" fill="none"/>
<text transform="translate(287.60,461.70) scale(1.0,1)" font-family="'Liberation Sans', Arial, Helvetica, sans-serif" font-size="16" text-anchor="middle" style="" fill="#000" letter-spacing="0.35">−<tspan dx="1.60">5</tspan></text>
<text transform="translate(371.60,461.70) scale(1.0,1)" font-family="'Liberation Sans', Arial, Helvetica, sans-serif" font-size="16" text-anchor="middle" style="" fill="#000" letter-spacing="0.35">0</text>
<text transform="translate(455.60,461.70) scale(1.0,1)" font-family="'Liberation Sans', Arial, Helvetica, sans-serif" font-size="16" text-anchor="middle" style="" fill="#000" letter-spacing="0.35">5</text>
<text transform="translate(228.50,441.91) scale(1.0,1)" font-family="'Liberation Sans', Arial, Helvetica, sans-serif" font-size="16" text-anchor="end" style="" fill="#000" letter-spacing="0.1">−<tspan dx="1.60">0.3</tspan></text>
<text transform="translate(228.50,415.84) scale(1.0,1)" font-family="'Liberation Sans', Arial, Helvetica, sans-serif" font-size="16" text-anchor="end" style="" fill="#000" letter-spacing="0.1">−<tspan dx="1.60">0.2</tspan></text>
<text transform="translate(228.50,389.77) scale(1.0,1)" font-family="'Liberation Sans', Arial, Helvetica, sans-serif" font-size="16" text-anchor="end" style="" fill="#000" letter-spacing="0.1">−<tspan dx="1.60">0.1</tspan></text>
<text transform="translate(228.50,363.70) scale(1.0,1)" font-family="'Liberation Sans', Arial, Helvetica, sans-serif" font-size="16" text-anchor="end" style="" fill="#000" letter-spacing="0.1">0.0</text>
<text transform="translate(228.50,337.63) scale(1.0,1)" font-family="'Liberation Sans', Arial, Helvetica, sans-serif" font-size="16" text-anchor="end" style="" fill="#000" letter-spacing="0.1">0.1</text>
<text transform="translate(228.50,311.56) scale(1.0,1)" font-family="'Liberation Sans', Arial, Helvetica, sans-serif" font-size="16" text-anchor="end" style="" fill="#000" letter-spacing="0.1">0.2</text>
<text transform="translate(228.50,285.49) scale(1.0,1)" font-family="'Liberation Sans', Arial, Helvetica, sans-serif" font-size="16" text-anchor="end" style="" fill="#000" letter-spacing="0.1">0.3</text>
<text transform="translate(372.50,486.70) scale(1.0,1)" font-family="'Liberation Sans', Arial, Helvetica, sans-serif" font-size="16.5" text-anchor="middle" style="font-style:italic;" fill="#000" >η</text>
<text transform="translate(186.90,357.80) scale(1.0,1) rotate(-90)" font-family="'Liberation Sans', Arial, Helvetica, sans-serif" font-size="16" text-anchor="middle" style="" fill="#000" >E</text>
<text transform="translate(167.60,250.60) scale(1.0,1)" font-family="'Liberation Serif', 'Times New Roman', serif" font-size="12" text-anchor="middle" style="stroke:none;" fill="#000" >(a)</text>
<text transform="translate(512.20,250.90) scale(1.0,1)" font-family="'Liberation Serif', 'Times New Roman', serif" font-size="12" text-anchor="middle" style="stroke:none;" fill="#000" >(b)</text>
<text transform="translate(340.00,510.60) scale(1.0,1)" font-family="'Liberation Serif', 'Times New Roman', serif" font-size="12" text-anchor="middle" style="stroke:none;" fill="#000" >(c)</text>
</svg>
</body></html>
